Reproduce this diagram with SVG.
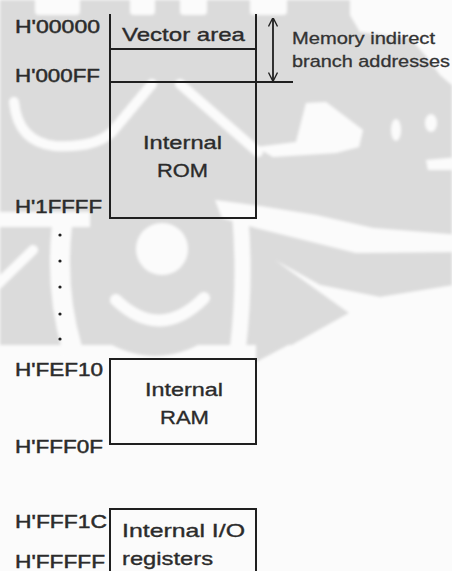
<svg xmlns="http://www.w3.org/2000/svg" width="452" height="571" viewBox="0 0 452 571">
<defs>
<style>
.lbl{font-family:"Liberation Sans",Arial,sans-serif;font-size:17.5px;fill:#2b2b2b;stroke:#2b2b2b;stroke-width:0.45px;}
.in{font-family:"Liberation Sans",Arial,sans-serif;font-size:19px;fill:#2b2b2b;stroke:#2b2b2b;stroke-width:0.35px;}
.note{font-family:"Liberation Sans",Arial,sans-serif;font-size:17px;fill:#333333;stroke:#333333;stroke-width:0.3px;}
.box{fill:none;stroke:#1f1f1f;stroke-width:2;}
.wm{fill:#fbfbfb;}
.wms{fill:none;stroke:#fbfbfb;stroke-linecap:round;stroke-linejoin:round;}
</style>
<filter id="soft" x="-5%" y="-5%" width="110%" height="110%">
<feGaussianBlur stdDeviation="1.6"/>
</filter>
<marker id="ah" viewBox="0 0 10 10" refX="9.5" refY="5" markerWidth="9" markerHeight="10" markerUnits="userSpaceOnUse" orient="auto-start-reverse">
<path d="M0,0 L10,5 L0,10" fill="none" stroke="#1f1f1f" stroke-width="1.5"/>
</marker>
</defs>
<rect width="452" height="571" fill="#fbfbfb"/>
<g id="watermark" filter="url(#soft)">
<rect x="0" y="0" width="452" height="345" fill="#dbdbdb"/>
<circle cx="155" cy="268" r="88" fill="#dbdbdb"/>
<polygon fill="#dbdbdb" points="256,255 349,313 256,362"/>
<rect class="wm" x="35" y="-5" width="45" height="20" rx="4"/>
<rect class="wm" x="130" y="-5" width="25" height="20" rx="4"/>
<rect class="wm" x="180" y="-5" width="27" height="20" rx="4"/>
<rect class="wm" x="250" y="-5" width="37" height="20" rx="4"/>
<polygon class="wm" points="350,-5 460,-5 460,92 440,75 425,55 410,38 360,32 350,15"/>
<path class="wms" stroke-width="10" d="M14,102 Q18,142 55,146 Q95,148 112,132 L152,84"/>
<path class="wms" stroke-width="10" d="M180,84 L258,152"/>
<polygon class="wm" points="256,147 296,142 306,103 326,102 363,130 359,147 336,153 273,157"/>
<ellipse class="wm" cx="396" cy="130" rx="5" ry="11"/>
<ellipse class="wm" cx="431" cy="123" rx="6" ry="9"/>
<polygon class="wm" points="426,160 460,157 460,170 428,170"/>
<polygon class="wm" points="215,200 260,206 316,215 373,228 460,235 460,252 356,253 296,238 256,228 222,218"/>
<path class="wms" stroke-width="16" d="M240,213 Q246,280 238,347"/>
<rect class="wm" x="-5" y="212" width="95" height="15"/>
<path class="wms" stroke-width="20" d="M62,225 Q55,290 72,348"/>
<path class="wms" stroke-width="10" d="M-5,287 L33,250"/>
<polygon class="wm" points="275,260 320,285 380,297 460,284 460,365 256,365 349,313"/>
<circle class="wm" cx="162" cy="249" r="26"/>
<path class="wms" stroke-width="12" d="M116,300 Q160,342 204,298"/>
</g>
<g id="rom">
<path class="box" d="M110,14 V218 H256 V14"/>
<line class="box" x1="110" y1="49" x2="256" y2="49"/>
<line class="box" x1="110" y1="82" x2="293" y2="82"/>
<text class="in" x="122" y="41" textLength="123" lengthAdjust="spacingAndGlyphs">Vector area</text>
<text class="in" x="143" y="149" textLength="79" lengthAdjust="spacingAndGlyphs">Internal</text>
<text class="in" x="157" y="177" textLength="51" lengthAdjust="spacingAndGlyphs">ROM</text>
</g>
<g id="ram">
<rect class="box" x="110" y="359" width="146" height="85"/>
<text class="in" x="145" y="396" textLength="78" lengthAdjust="spacingAndGlyphs">Internal</text>
<text class="in" x="160" y="424" textLength="49" lengthAdjust="spacingAndGlyphs">RAM</text>
</g>
<g id="io">
<path class="box" d="M110,575 V509 H256 V575"/>
<text class="in" x="122" y="537" textLength="123" lengthAdjust="spacingAndGlyphs">Internal I/O</text>
<text class="in" x="122" y="565" textLength="91" lengthAdjust="spacingAndGlyphs">registers</text>
</g>
<g id="addresses">
<text class="lbl" x="15" y="33" textLength="85" lengthAdjust="spacingAndGlyphs">H'00000</text>
<text class="lbl" x="15" y="82" textLength="85" lengthAdjust="spacingAndGlyphs">H'000FF</text>
<text class="lbl" x="15" y="213" textLength="87" lengthAdjust="spacingAndGlyphs">H'1FFFF</text>
<g id="dots" fill="#1f1f1f">
<circle cx="60" cy="235" r="1.6"/>
<circle cx="60" cy="261" r="1.6"/>
<circle cx="60" cy="287" r="1.6"/>
<circle cx="60" cy="314" r="1.6"/>
<circle cx="60" cy="339" r="1.6"/>
</g>
<text class="lbl" x="15" y="376" textLength="88" lengthAdjust="spacingAndGlyphs">H'FEF10</text>
<text class="lbl" x="15" y="453" textLength="88" lengthAdjust="spacingAndGlyphs">H'FFF0F</text>
<text class="lbl" x="15" y="528" textLength="92" lengthAdjust="spacingAndGlyphs">H'FFF1C</text>
<text class="lbl" x="15" y="568" textLength="90" lengthAdjust="spacingAndGlyphs">H'FFFFF</text>
</g>
<g id="connectors">
<line x1="273" y1="18" x2="273" y2="81" stroke="#1f1f1f" stroke-width="1.8" marker-start="url(#ah)" marker-end="url(#ah)"/>
</g>
<g id="note">
<text class="note" x="292" y="44" textLength="143" lengthAdjust="spacingAndGlyphs">Memory indirect</text>
<text class="note" x="292" y="67" textLength="158" lengthAdjust="spacingAndGlyphs">branch addresses</text>
</g>
</svg>
